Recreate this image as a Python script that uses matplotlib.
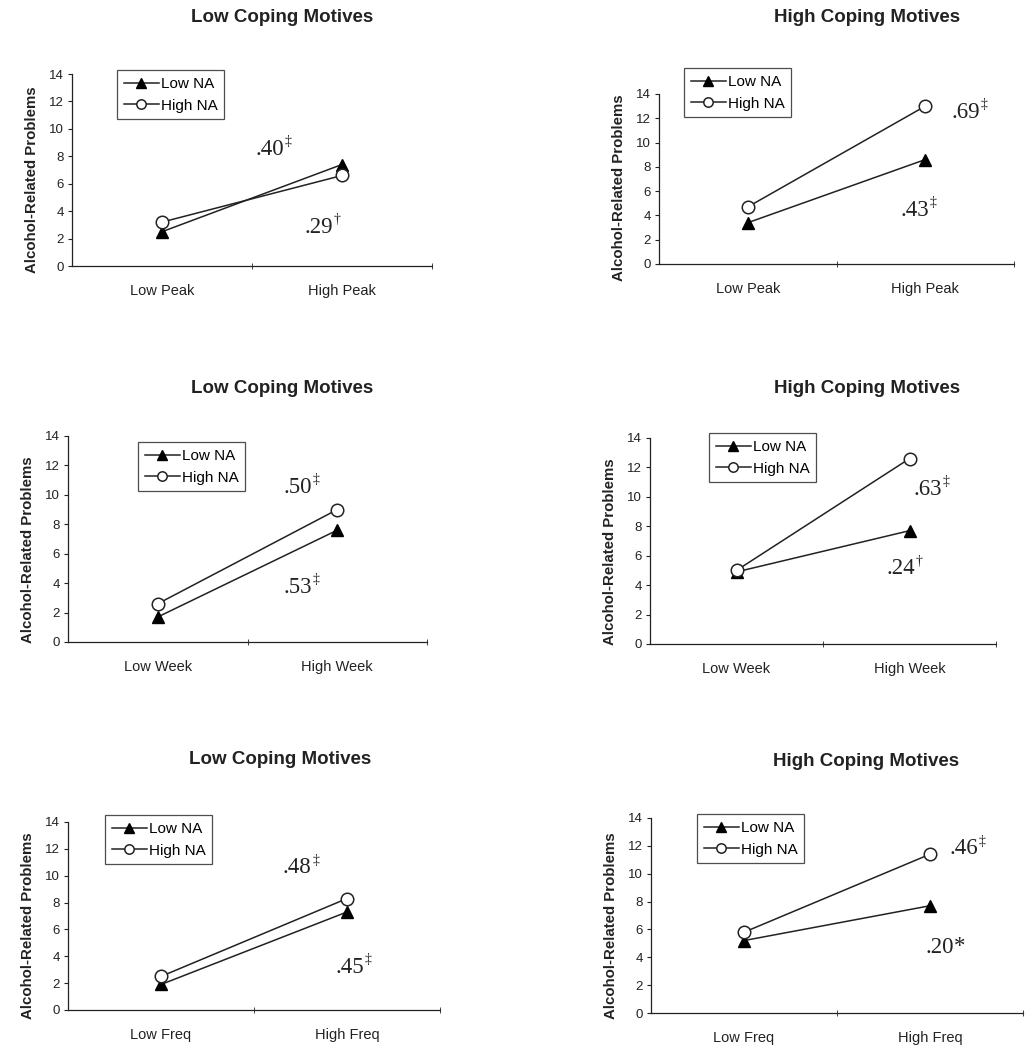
import matplotlib
matplotlib.use("Agg")
import matplotlib.pyplot as plt

# data
cats_peak = ["Low Peak", "High Peak"]
cats_week = ["Low Week", "High Week"]
cats_freq = ["Low Freq", "High Freq"]
titles = ["Low Coping Motives", "High Coping Motives"]

low_na_1 = [2.5, 7.4]
high_na_1 = [3.2, 6.6]
low_na_2 = [3.4, 8.6]
high_na_2 = [4.7, 13.0]
low_na_3 = [1.7, 7.6]
high_na_3 = [2.6, 9.0]
low_na_4 = [4.9, 7.7]
high_na_4 = [5.0, 12.6]
low_na_5 = [1.9, 7.3]
high_na_5 = [2.5, 8.3]
low_na_6 = [5.2, 7.7]
high_na_6 = [5.8, 11.4]

# slope labels: (text, mark, x, y)
notes_1 = [(".40", "\u2021", 0.68, 8.5), (".29", "\u2020", 0.95, 2.8)]
notes_2 = [(".69", "\u2021", 1.31, 12.5), (".43", "\u2021", 1.02, 4.4)]
notes_3 = [(".50", "\u2021", 0.86, 10.5), (".53", "\u2021", 0.86, 3.7)]
notes_4 = [(".63", "\u2021", 1.19, 10.5), (".24", "\u2020", 1.03, 5.1)]
notes_5 = [(".48", "\u2021", 0.81, 10.6), (".45", "\u2021", 1.09, 3.2)]
notes_6 = [(".46", "\u2021", 1.26, 11.8), (".20", "*", 1.13, 4.7)]

W, H = 1034, 1050
sans = "Liberation Sans"
serif = "Liberation Serif"
ink = "#222222"

fig = plt.figure(figsize=(W / 100, H / 100), dpi=100)

# pixel boxes: left, right, top(14), bottom(0), legend left, legend top, title x, title y
panels = [
    (72, 432, 74, 266, 117, 70, 282, 18, cats_peak, titles[0], low_na_1, high_na_1, notes_1),
    (659, 1014, 94, 264, 684, 68, 867, 18, cats_peak, titles[1], low_na_2, high_na_2, notes_2),
    (68, 427, 436, 642, 138, 442, 282, 388, cats_week, titles[0], low_na_3, high_na_3, notes_3),
    (650, 996, 438, 644, 709, 433, 867, 388, cats_week, titles[1], low_na_4, high_na_4, notes_4),
    (68, 440, 822, 1010, 105, 815, 280, 760, cats_freq, titles[0], low_na_5, high_na_5, notes_5),
    (651, 1023, 818, 1013, 697, 814, 866, 762, cats_freq, titles[1], low_na_6, high_na_6, notes_6),
]

for (l, r, t, b, lgx, lgy, tx, ty, cats, title, low, high, notes) in panels:
    ax = fig.add_axes([l / W, 1 - b / H, (r - l) / W, (b - t) / H])
    x = range(len(cats))
    ax.plot(x, low, color=ink, lw=1.1, marker="^", ms=9, mfc="black", mec="black", label="Low NA")
    ax.plot(x, high, color=ink, lw=1.1, marker="o", ms=9, mfc="white", mec=ink, mew=1.1, label="High NA")
    ax.set_xlim(-0.5, 1.5)
    ax.set_ylim(0, 14)
    ax.set_yticks(range(0, 15, 2))
    ax.set_xticks(list(x))
    ax.set_xticklabels(cats, fontfamily=sans, fontsize=10.5)
    ax.set_xticks([0.5, 1.5], minor=True)
    ax.tick_params(axis="x", which="major", length=0, pad=13, colors=ink)
    ax.tick_params(axis="x", which="minor", length=5, direction="inout", color=ink)
    ax.tick_params(axis="y", length=3, direction="out", labelsize=9.5, pad=3, colors=ink)
    for lab in ax.get_yticklabels():
        lab.set_fontfamily(sans)
    for s in ["top", "right"]:
        ax.spines[s].set_visible(False)
    for s in ["left", "bottom"]:
        ax.spines[s].set_color(ink)
        ax.spines[s].set_linewidth(0.9)
    ax.set_ylabel("Alcohol-Related Problems", fontfamily=sans, fontweight="bold", fontsize=10.8, color=ink)
    ax.yaxis.set_label_coords(-33 / (r - l), 0.45)

    for txt, mark, nx, ny in notes:
        ax.text(nx, ny, txt, ha="right", va="center", fontfamily=serif, fontsize=16.5, color=ink)
        if mark == "*":
            ax.annotate(mark, (nx, ny), xytext=(0, 1), textcoords="offset points",
                        ha="left", va="center", fontfamily=serif, fontsize=16.5, color=ink)
        else:
            ax.annotate(mark, (nx, ny), xytext=(0.5, 5.5), textcoords="offset points",
                        ha="left", va="center", fontfamily=serif, fontsize=10, color=ink)

    leg = ax.legend(loc="upper left", bbox_to_anchor=(lgx / W, 1 - lgy / H),
                    bbox_transform=fig.transFigure, borderaxespad=0,
                    prop={"family": sans, "size": 11}, handlelength=2.3,
                    handletextpad=0.1, borderpad=0.45, labelspacing=0.5,
                    frameon=True, fancybox=False, markerscale=0.75)
    leg.get_frame().set_edgecolor(ink)
    leg.get_frame().set_linewidth(0.9)

    fig.text(tx / W, 1 - ty / H, title, ha="center", va="center", fontfamily=sans,
             fontweight="bold", fontsize=13.5, color=ink)

fig.savefig("out.png", dpi=100, facecolor="white")
